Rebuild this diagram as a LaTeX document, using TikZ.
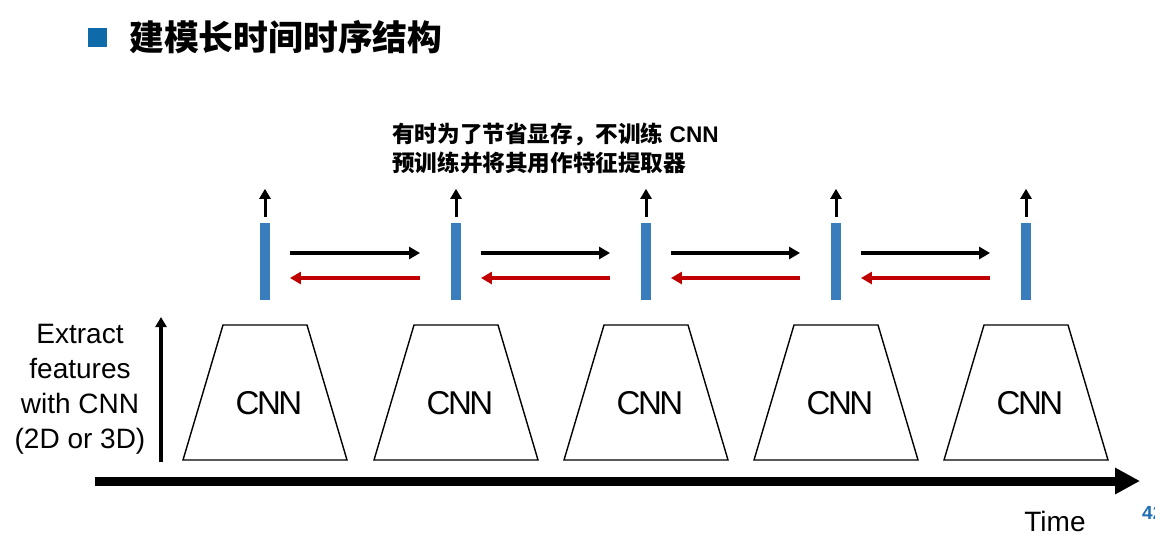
\documentclass[tikz,border=0pt]{standalone}
\usepackage{fontspec}
\setmainfont{Liberation Sans}
\newfontfamily\cjk{Noto Sans CJK SC}
\usetikzlibrary{arrows.meta,calc}
\definecolor{barblue}{HTML}{3A7DBD}
\definecolor{titleblue}{HTML}{0E6AA8}
\definecolor{darkred}{HTML}{C00000}
\definecolor{pgblue}{HTML}{1F6FB5}
\tikzset{
  trap/.style={draw, line width=1.4pt, line join=miter},
  cnnlabel/.style={font=\fontsize{33}{36}\selectfont\addfontfeature{LetterSpace=-7.5}},
  featbar/.style={fill=barblue, draw=none, minimum width=9.5pt, minimum height=77pt, inner sep=0pt},
  uparr/.style={line width=3pt, -{Triangle[length=10pt,width=11pt]}},
  fwd/.style={line width=4pt, -{Triangle[length=11pt,width=12pt]}},
  bwd/.style={line width=4pt, darkred, -{Triangle[length=11pt,width=12pt]}},
  axisarr/.style={line width=3.5pt, -{Triangle[length=10pt,width=11pt]}},
  timearr/.style={line width=9pt, -{Triangle[length=25pt,width=25pt]}},
}
\begin{document}
\begin{tikzpicture}[x=1pt,y=-1pt]
\useasboundingbox (0,0) rectangle (1155,544);
% title
\node[fill=titleblue, minimum size=19pt, inner sep=0pt] (sq) at (97.5,37) {};
\node[anchor=west, inner sep=0pt, font=\cjk\bfseries\fontsize{34.8}{38}\selectfont] (title) at (129,37) {建模长时间时序结构};
% annotation
\node[anchor=north west, inner sep=0pt, align=left, font=\bfseries\fontsize{22.6}{29}\selectfont] (note) at (392,123)
  {{\cjk 有时为了节省显存，不训练} CNN\\{\cjk 预训练并将其用作特征提取器}};
% columns
\foreach \i/\x in {1/265,2/456,3/646,4/836,5/1026}{
  \draw[trap] (\x-42,325) -- (\x+42,325) -- (\x+82,460) -- (\x-82,460) -- cycle;
  \node[cnnlabel, inner sep=0pt] (cnnt\i) at (\x+4,403) {CNN};
  \node[featbar] (bar\i) at (\x,261.5) {};
  \draw[uparr] ([yshift=6pt]bar\i.north) -- ++(0,-28);
}
\foreach \i/\j in {1/2,2/3,3/4,4/5}{
  \draw[fwd, shorten <=20pt, shorten >=31pt] ([yshift=8.5pt]bar\i.east) -- ([yshift=8.5pt]bar\j.west);
  \draw[bwd, shorten <=31pt, shorten >=20pt] ([yshift=-16.5pt]bar\j.west) -- ([yshift=-16.5pt]bar\i.east);
}
% left axis
\coordinate (ax0) at (161,462);
\coordinate (ax1) at (161,317);
\draw[axisarr] (ax0) -- (ax1);
\node[align=center, inner sep=0pt, font=\fontsize{28}{35}\selectfont] (extract) at (80,389)
  {Extract\\features\\with CNN\\(2D or 3D)};
% time axis
\coordinate (t0) at (95,481);
\coordinate (t1) at (1140,481);
\draw[timearr] (t0) -- (t1);
\node[inner sep=0pt, font=\fontsize{28}{32}\selectfont] (time) at (1055,521) {Time};
\node[anchor=base west, inner sep=0pt, text=pgblue, font=\bfseries\fontsize{19}{20}\selectfont] (page) at (1142,519) {42};
\end{tikzpicture}
\end{document}
